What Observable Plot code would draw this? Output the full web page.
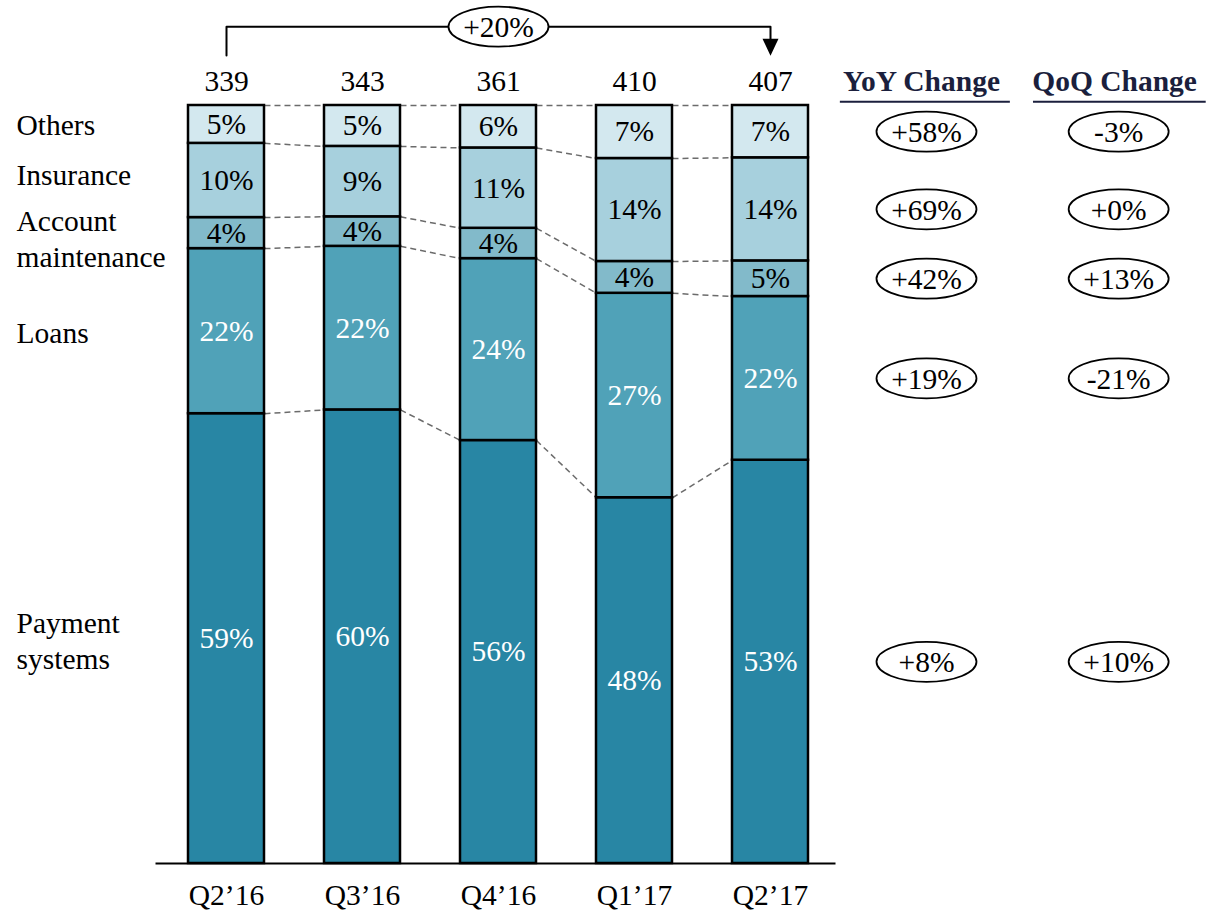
<!DOCTYPE html>
<html>
<head>
<meta charset="utf-8">
<script src="https://cdn.jsdelivr.net/npm/d3@7"></script>
<script src="https://cdn.jsdelivr.net/npm/@observablehq/plot@0.6"></script>
<style>
  html, body { margin: 0; padding: 0; background: #fff; }
  #chart { width: 1219px; height: 917px; }
</style>
</head>
<body>
<div id="chart"></div>
<script>
// ---------- DATA ----------
const quarters = ["Q2’16", "Q3’16", "Q4’16", "Q1’17", "Q2’17"];
const totals = [339, 343, 361, 410, 407];
const segments = ["Payment systems", "Loans", "Account maintenance", "Insurance", "Others"];
const segmentLabels = ["Payment\nsystems", "Loans", "Account\nmaintenance", "Insurance", "Others"];
// share of total (%), per quarter
const paymentShare   = [59.4, 59.9, 55.8, 48.3, 53.2];
const loansShare     = [21.8, 21.6, 24.0, 27.0, 21.6];
const accountShare   = [4.1, 3.9, 4.0, 4.2, 4.7];
const insuranceShare = [9.8, 9.3, 10.6, 13.6, 13.6];
const othersShare    = [5.0, 5.4, 5.6, 7.0, 6.9];
// changes, in segment order (bottom to top)
const yoyChange = ["+8%", "+19%", "+42%", "+69%", "+58%"];
const qoqChange = ["+10%", "-21%", "+13%", "+0%", "-3%"];
const periodChange = "+20%";
const headers = ["YoY Change", "QoQ Change"];

// ---------- STYLE / LAYOUT ----------
const colors = ["#2886A4", "#50A2B8", "#82BACA", "#A7D0DD", "#D3E8EF"];
const textColors = ["white", "white", "black", "black", "black"];
const FS = 29.5;
const hw = 0.2794;          // half bar width in x units
const yTotals = 103.2;
const yBracketTop = 110.4;
const yBracketBottom = 106.6;
const yArrowStart = 108.6;
const yArrow = 107.7;
const yQuarter = -4.2;
const yHeader = 103.2;
const yUnderline = 100.5;
const xLeftLabels = -1.544;
const leftLabelDy = [1, 0, 4, -7, -1];
const xYoY = 5.147, xQoQ = 6.56;
const xHeader = [5.11, 6.53];
const underline = [[4.51, 5.76], [5.93, 7.2]];

// ---------- DERIVED ----------
const shares = [paymentShare, loansShare, accountShare, insuranceShare, othersShare];
const rows = [];
const levels = [];
quarters.forEach((q, i) => {
  const sum = d3.sum(shares, s => s[i]);
  let acc = 0;
  const lv = [];
  shares.forEach((s, k) => {
    const v = s[i] / sum * 100;
    rows.push({i, k, q, y1: acc, y2: acc + v, label: Math.round(s[i]) + "%"});
    acc += v;
    lv.push(acc);
  });
  levels.push(lv);
});
const connectors = [];
for (let i = 0; i < quarters.length - 1; i++) {
  for (let k = 0; k < segments.length; k++) {
    connectors.push({x1: i + hw, x2: i + 1 - hw, y1: levels[i][k], y2: levels[i + 1][k]});
  }
}
const first = rows.filter(d => d.i === 0);
const last = rows.filter(d => d.i === quarters.length - 1);
const mid = d => (d.y1 + d.y2) / 2;

function ellipse(rx, ry) {
  const c = 0.5522847498;
  return {
    draw(ctx) {
      ctx.moveTo(rx, 0);
      ctx.bezierCurveTo(rx, ry * c, rx * c, ry, 0, ry);
      ctx.bezierCurveTo(-rx * c, ry, -rx, ry * c, -rx, 0);
      ctx.bezierCurveTo(-rx, -ry * c, -rx * c, -ry, 0, -ry);
      ctx.bezierCurveTo(rx * c, -ry, rx, -ry * c, rx, 0);
      ctx.closePath();
    }
  };
}
const arrowHead = {
  draw(ctx) {
    ctx.moveTo(-8, -8.5);
    ctx.lineTo(8, -8.5);
    ctx.lineTo(0, 8.5);
    ctx.closePath();
  }
};
const oval = ellipse(50, 20);

const chart = Plot.plot({
  width: 1219,
  height: 917,
  marginLeft: 158,
  marginRight: 381,
  marginTop: 105,
  marginBottom: 54,
  x: {type: "linear", domain: [-0.5, 4.5], axis: null},
  y: {domain: [0, 100], axis: null},
  color: {type: "identity"},
  style: {fontFamily: "'Liberation Serif', 'Times New Roman', serif", background: "white", overflow: "visible"},
  marks: [
    Plot.link(connectors, {x1: "x1", y1: "y1", x2: "x2", y2: "y2", stroke: "#6b6b6b", strokeWidth: 1.5, strokeDasharray: "6,4"}),
    Plot.rect(rows, {x1: d => d.i - hw, x2: d => d.i + hw, y1: "y1", y2: "y2", fill: d => colors[d.k], stroke: "black", strokeWidth: 2.5}),
    Plot.text(rows, {x: "i", y: mid, text: "label", fill: d => textColors[d.k], fontSize: FS}),
    Plot.link([0], {x1: -0.522, x2: 4.478, y1: 0, y2: 0, stroke: "black", strokeWidth: 2}),
    Plot.text(quarters, {x: (d, i) => i, y: yQuarter, text: d => d, fontSize: FS}),
    Plot.text(totals, {x: (d, i) => i, y: yTotals, text: d => String(d), fontSize: FS}),
    Plot.line([[0, yBracketBottom], [0, yBracketTop], [quarters.length - 1, yBracketTop], [quarters.length - 1, yArrowStart]], {stroke: "black", strokeWidth: 2}),
    Plot.dot([[quarters.length - 1, yArrow]], {symbol: arrowHead, fill: "black", stroke: "none"}),
    Plot.dot([[2, yBracketTop]], {symbol: oval, fill: "white", stroke: "black", strokeWidth: 1.8}),
    Plot.text([periodChange], {x: 2, y: yBracketTop, text: d => d, fontSize: FS, dy: 1}),
    ...first.map(d => Plot.text([d], {x: xLeftLabels, y: mid, text: r => segmentLabels[r.k], textAnchor: "start", fontSize: FS, lineHeight: 1.22, dy: leftLabelDy[d.k]})),
    Plot.text(headers, {x: (d, i) => xHeader[i], y: yHeader, text: d => d, fontSize: FS, fontWeight: "bold", fill: "#1b1f3d"}),
    Plot.link(underline, {x1: d => d[0], x2: d => d[1], y1: yUnderline, y2: yUnderline, stroke: "#1b1f3d", strokeWidth: 2}),
    Plot.dot(last, {x: xYoY, y: mid, symbol: oval, fill: "white", stroke: "black", strokeWidth: 1.8}),
    Plot.text(last, {x: xYoY, y: mid, text: d => yoyChange[d.k], fontSize: FS, dy: 1}),
    Plot.dot(last, {x: xQoQ, y: mid, symbol: oval, fill: "white", stroke: "black", strokeWidth: 1.8}),
    Plot.text(last, {x: xQoQ, y: mid, text: d => qoqChange[d.k], fontSize: FS, dy: 1})
  ]
});
document.getElementById("chart").appendChild(chart);
</script>
</body>
</html>
